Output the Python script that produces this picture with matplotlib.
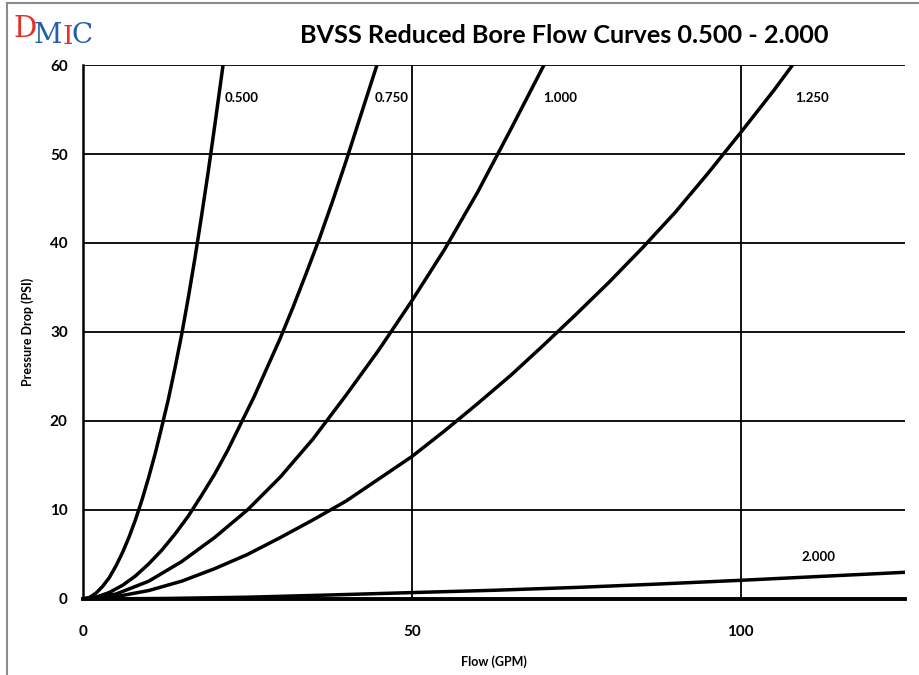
import matplotlib
matplotlib.use("Agg")
import matplotlib.pyplot as plt
from matplotlib.lines import Line2D

plt.rcParams['font.family'] = ['Lato', 'DejaVu Sans']

# flow (GPM) vs pressure drop (PSI)
q_050 = [0, 1, 2, 3, 4, 5, 6, 7, 8, 9, 10, 11, 12, 13, 14, 15, 16, 17, 18, 19, 20, 21.3]
p_050 = [0, 0.18, 0.67, 1.43, 2.4, 3.7, 5.2, 6.95, 8.95, 11.2, 13.7, 16.4, 19.4, 22.5,
         26.0, 29.7, 33.8, 38.2, 42.9, 47.8, 53.0, 60]

q_075 = [0, 2, 4, 6, 8, 10, 12, 14, 16, 18, 20, 22, 24, 26, 28, 30, 32, 34, 36, 38, 40, 42, 44.7]
p_075 = [0, 0.2, 0.73, 1.53, 2.6, 3.95, 5.5, 7.3, 9.3, 11.6, 14.0, 16.7, 19.7, 22.7,
         26.0, 29.3, 32.9, 36.7, 40.6, 44.8, 49.2, 53.8, 60]

q_100 = [0, 5, 10, 15, 20, 25, 30, 35, 40, 45, 50, 55, 60, 65, 70.1]
p_100 = [0, 0.55, 2.0, 4.2, 6.9, 10, 13.7, 18.0, 22.9, 28.0, 33.5, 39.3, 45.7, 52.7, 60]

q_125 = [0, 5, 10, 15, 20, 25, 30, 35, 40, 45, 50, 55, 60, 65, 70, 75, 80, 85, 90, 95, 100, 105, 107.9]
p_125 = [0, 0.26, 0.95, 2.0, 3.4, 5.0, 6.9, 8.9, 11.0, 13.5, 16.0, 18.9, 21.95, 25.1,
         28.5, 32.0, 35.6, 39.4, 43.4, 47.8, 52.4, 57.1, 60]

q_200 = [0, 12.5, 25, 37.5, 50, 62.5, 75, 87.5, 100, 112.5, 125]
p_200 = [0, 0.06, 0.2, 0.45, 0.72, 0.98, 1.3, 1.68, 2.1, 2.55, 3.0]

series = [
    (q_050, p_050, "0.500", 21.6, 56.3),
    (q_075, p_075, "0.750", 44.4, 56.3),
    (q_100, p_100, "1.000", 70.0, 56.3),
    (q_125, p_125, "1.250", 108.3, 56.3),
    (q_200, p_200, "2.000", 109.3, 4.7),
]

fig = plt.figure(figsize=(9.19, 6.75), dpi=100)
ax = fig.add_axes([0.0903, 0.1126, 0.8945, 0.7911])

for q, p, name, lx, ly in series:
    ax.plot(q, p, color="black", linewidth=2.5, solid_joinstyle="round", zorder=3)
    ax.text(lx, ly, name, fontsize=9.5, fontweight="bold", va="center", ha="left")

ax.set_xlim(0, 125)
ax.set_ylim(0, 60)
ax.set_xticks([0, 50, 100])
ax.set_yticks(range(0, 61, 10))
ax.grid(True, color="black", linewidth=1.3)
ax.tick_params(length=0, labelsize=11)
ax.tick_params(axis="x", pad=19)
ax.tick_params(axis="y", pad=11)
for lab in ax.get_xticklabels() + ax.get_yticklabels():
    lab.set_fontweight("bold")

for s in ["top", "right"]:
    ax.spines[s].set_visible(False)
ax.spines["bottom"].set_linewidth(2.8)
ax.spines["left"].set_linewidth(1.8)
ax.spines["bottom"].set_zorder(4)

ax.set_xlabel("Flow (GPM)", fontsize=9, fontweight="bold")
ax.set_ylabel("Pressure Drop (PSI)", fontsize=9, fontweight="bold")
ax.xaxis.set_label_coords(0.5, -0.105)
ax.yaxis.set_label_coords(-0.0596, 0.5)

fig.text(0.614, 0.948, "BVSS Reduced Bore Flow Curves 0.500 - 2.000",
         fontsize=18.2, fontweight="bold", ha="center", va="center")

# logo
fig.text(0.015, 0.957, "D", fontsize=21, color="#e8302a", family="DejaVu Serif", va="center")
fig.text(0.037, 0.948, "M", fontsize=20, color="#1f5fae", family="DejaVu Serif", va="center")
fig.text(0.068, 0.946, "I", fontsize=19, color="#e8302a", family="DejaVu Serif", va="center")
fig.text(0.078, 0.948, "C", fontsize=20, color="#1f5fae", family="DejaVu Serif", va="center")

# outer border (top and left edge of the chart box)
fig.add_artist(Line2D([0.0076, 1.0], [0.9956, 0.9956], color="#8c8c8c", linewidth=1.5))
fig.add_artist(Line2D([0.0076, 0.0076], [0.0, 0.9956], color="#8c8c8c", linewidth=1.5))

fig.savefig("out.png", dpi=100)
